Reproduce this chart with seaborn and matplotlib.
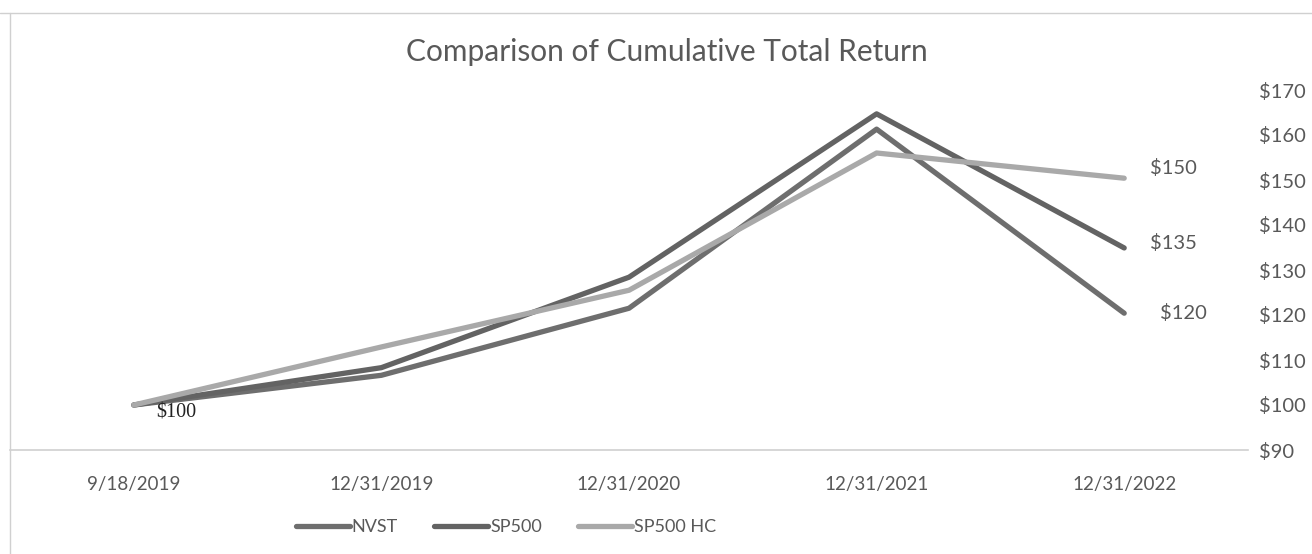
import matplotlib
matplotlib.use("Agg")
import matplotlib.pyplot as plt
import numpy as np
import pandas as pd
import seaborn as sns
from matplotlib.lines import Line2D

# values
dates = ["9/18/2019", "12/31/2019", "12/31/2020", "12/31/2021", "12/31/2022"]
nvst = [100, 106.6, 121.5, 161.3, 120.4]
sp500 = [100, 108.3, 128.4, 164.7, 134.9]
sp500_hc = [100, 112.9, 125.5, 156.0, 150.4]
series_names = ["NVST", "SP500", "SP500 HC"]
y_ticks = [90, 100, 110, 120, 130, 140, 150, 160, 170]

colors = {"NVST": "#6e6e6e", "SP500": "#636363", "SP500 HC": "#a9a9a9"}
text_grey = "#595959"

df = pd.DataFrame({
    "date": dates * 3,
    "pos": list(range(len(dates))) * 3,
    "value": nvst + sp500 + sp500_hc,
    "series": [s for s in series_names for _ in dates],
})

sns.set_theme(style="white")
plt.rcParams["font.family"] = ["Lato", "DejaVu Sans"]

fig = plt.figure(figsize=(13.12, 5.54), dpi=100)
ax = fig.add_axes([10 / 1312, 104 / 554, 1238 / 1312, 360 / 554])

sns.lineplot(data=df, x="pos", y="value", hue="series", palette=colors,
             hue_order=series_names, linewidth=3.8, ax=ax, legend=False)

ax.set_xlim(-0.5, len(dates) - 0.5)
ax.set_ylim(y_ticks[0], y_ticks[-1])
ax.set_xticks(np.arange(len(dates)))
ax.set_xticklabels(dates)
ax.set_xticks(np.arange(len(dates) + 1) - 0.5, minor=True)
ax.tick_params(axis="x", which="major", length=0, pad=19, labelsize=13.5, labelcolor=text_grey)
ax.tick_params(axis="x", which="minor", length=8, width=1, color="#d0d0d0", direction="out")
ax.yaxis.tick_right()
ax.set_yticks(y_ticks)
ax.set_yticklabels([f"${v}" for v in y_ticks])
ax.tick_params(axis="y", length=0, pad=8, labelsize=14.5, labelcolor=text_grey)
ax.set_xlabel("")
ax.set_ylabel("")
for side in ["top", "left", "right"]:
    ax.spines[side].set_visible(False)
ax.spines["bottom"].set_color("#d0d0d0")
ax.spines["bottom"].set_linewidth(1.2)
ax.grid(False)

# data labels
ax.annotate(f"${nvst[0]}", xy=(0, nvst[0]), xytext=(22, -8), textcoords="offset pixels",
            fontsize=14.5, color="#222222", family="Liberation Serif", va="center")
last = len(dates) - 1
ax.annotate(f"${sp500_hc[-1]:.0f}", xy=(last, sp500_hc[-1]), xytext=(26, 10),
            textcoords="offset pixels", fontsize=14.5, color=text_grey, va="center")
ax.annotate(f"${sp500[-1]:.0f}", xy=(last, sp500[-1]), xytext=(26, 5),
            textcoords="offset pixels", fontsize=14.5, color=text_grey, va="center")
ax.annotate(f"${nvst[-1]:.0f}", xy=(last, nvst[-1]), xytext=(36, 0),
            textcoords="offset pixels", fontsize=14.5, color=text_grey, va="center")

fig.text(667 / 1312, 1 - 52 / 554, "Comparison of Cumulative Total Return",
         ha="center", va="center", fontsize=21.5, color=text_grey)

handles = [Line2D([], [], color=colors[s], linewidth=3.8) for s in series_names]
fig.legend(handles, series_names, loc="center", bbox_to_anchor=(506 / 1312, 1 - 527 / 554),
           ncol=3, frameon=False, fontsize=13, handlelength=3.0, handletextpad=0.1,
           columnspacing=2.0, labelcolor=text_grey)

# chart-area border (top and left edges visible in the reference)
fig.add_artist(Line2D([0, 1], [1 - 13 / 554, 1 - 13 / 554], transform=fig.transFigure,
                      color="#d0d0d0", linewidth=1))
fig.add_artist(Line2D([10 / 1312, 10 / 1312], [0, 1 - 13 / 554], transform=fig.transFigure,
                      color="#d0d0d0", linewidth=1))

fig.savefig("out.png", dpi=100)
